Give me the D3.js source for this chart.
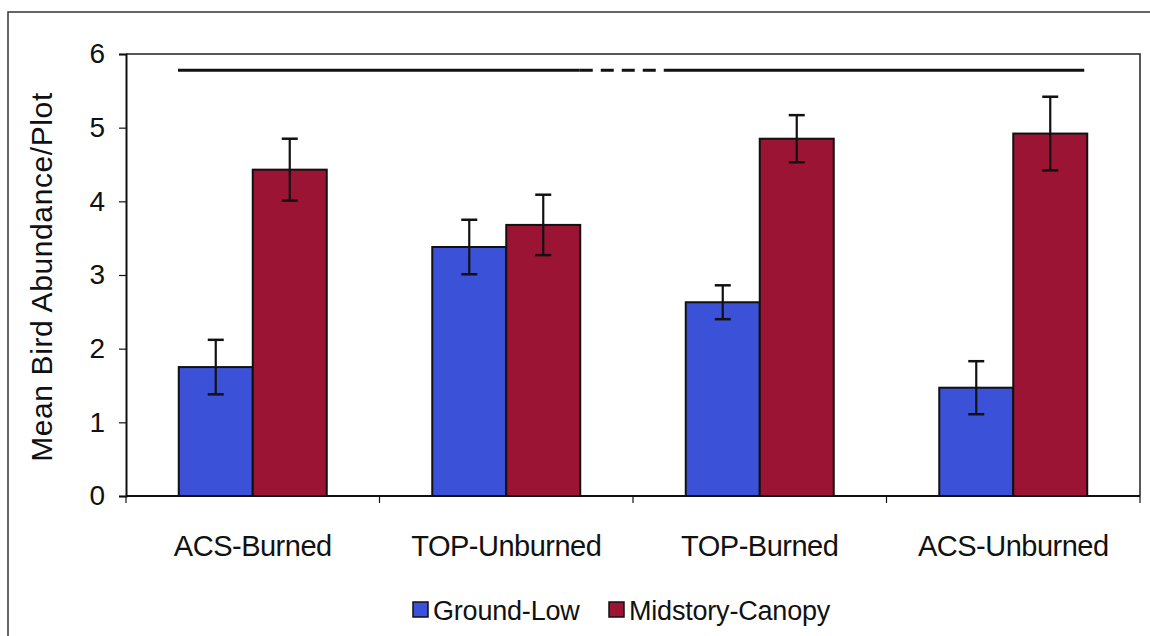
<!DOCTYPE html>
<html><head><meta charset="utf-8">
<script src="https://cdn.jsdelivr.net/npm/d3@7"></script>
<style>body{margin:0;background:#fff}svg{display:block}text{font-family:"Liberation Sans",Arial,sans-serif;fill:#111}</style>
</head><body>
<script>
const categories = ["ACS-Burned","TOP-Unburned","TOP-Burned","ACS-Unburned"];
const seriesNames = ["Ground-Low","Midstory-Canopy"];
const groundLow = [1.75, 3.38, 2.63, 1.47];
const groundLowErr = [0.37, 0.37, 0.23, 0.36];
const midstory = [4.43, 3.68, 4.85, 4.92];
const midstoryErr = [0.42, 0.41, 0.32, 0.50];
const yTicks = [0,1,2,3,4,5,6];
// significance line at top, in category units (0..4), dashed middle part
const sigY = 5.78;
const sigSegments = [
  {from:0.205, to:1.79, dashed:false},
  {from:1.79, to:2.13, dashed:true},
  {from:2.13, to:3.78, dashed:false}
];
const colors = ["#3b52d8","#9b1434"];

const W=1150,H=636;
const m={left:126,right:1140,top:54,bottom:496};
const svg=d3.select("body").append("svg").attr("width",W).attr("height",H);

// outer frame
svg.append("path").attr("d",`M8,${H+5}V12H${W+5}`).attr("fill","none").attr("stroke","#333").attr("stroke-width",1.5);

const x=d3.scaleBand().domain(categories).range([m.left,m.right]).paddingInner(0).paddingOuter(0);
const xs=d3.scaleBand().domain(seriesNames).range([0,x.bandwidth()]).paddingInner(0).paddingOuter(0.713);
const xc=d3.scaleLinear().domain([0,4]).range([m.left,m.right]);
const y=d3.scaleLinear().domain([0,6]).range([m.bottom,m.top]);

// plot frame top & right
svg.append("path").attr("d",`M${m.left},${m.top}H${m.right}V${m.bottom}`).attr("fill","none").attr("stroke","#222").attr("stroke-width",1.5);

const data=categories.map((c,i)=>({c,vals:[{s:seriesNames[0],v:groundLow[i],e:groundLowErr[i],k:0},{s:seriesNames[1],v:midstory[i],e:midstoryErr[i],k:1}]}));
const g=svg.append("g").selectAll("g").data(data).join("g").attr("transform",d=>`translate(${x(d.c)},0)`);
g.selectAll("rect").data(d=>d.vals).join("rect")
 .attr("x",d=>xs(d.s)).attr("width",xs.bandwidth())
 .attr("y",d=>y(d.v)).attr("height",d=>y(0)-y(d.v))
 .attr("fill",d=>colors[d.k]).attr("stroke","#111").attr("stroke-width",2);
const eb=g.selectAll("g.eb").data(d=>d.vals).join("g").attr("class","eb");
eb.append("line").attr("x1",d=>xs(d.s)+xs.bandwidth()/2).attr("x2",d=>xs(d.s)+xs.bandwidth()/2)
 .attr("y1",d=>y(d.v+d.e)).attr("y2",d=>y(d.v-d.e)).attr("stroke","#111").attr("stroke-width",2.2);
eb.selectAll("line.cap").data(d=>[{d,t:d.v+d.e},{d,t:d.v-d.e}]).join("line").attr("class","cap")
 .attr("x1",o=>xs(o.d.s)+xs.bandwidth()/2-8).attr("x2",o=>xs(o.d.s)+xs.bandwidth()/2+8)
 .attr("y1",o=>y(o.t)).attr("y2",o=>y(o.t)).attr("stroke","#111").attr("stroke-width",2.5);

// significance line
svg.selectAll("line.sig").data(sigSegments).join("line").attr("class","sig")
 .attr("x1",d=>xc(d.from)).attr("x2",d=>xc(d.to)).attr("y1",y(sigY)).attr("y2",y(sigY))
 .attr("stroke","#111").attr("stroke-width",3).attr("stroke-dasharray",d=>d.dashed?"13,8":null);

// y axis
const ya=svg.append("g").attr("transform",`translate(${m.left},0)`)
 .call(d3.axisLeft(y).tickValues(yTicks).tickFormat(d3.format("d")).tickSize(7).tickPadding(14));
ya.select(".domain").attr("stroke","#111").attr("stroke-width",2);
ya.selectAll(".tick line").attr("stroke","#111").attr("stroke-width",1.2);
ya.selectAll("text").style("font-size","28px").attr("fill","#111");

// x axis
const boundaries=d3.range(0,5);
const xa=svg.append("g").attr("transform",`translate(0,${m.bottom})`);
xa.append("line").attr("x1",m.left).attr("x2",m.right).attr("stroke","#111").attr("stroke-width",2);
xa.selectAll("line.t").data(boundaries).join("line").attr("class","t")
 .attr("x1",d=>xc(d)).attr("x2",d=>xc(d)).attr("y1",0).attr("y2",7).attr("stroke","#111").attr("stroke-width",1.2);
xa.selectAll("text").data(categories).join("text")
 .attr("x",d=>x(d)+x.bandwidth()/2).attr("y",60).attr("text-anchor","middle")
 .style("font-size","29px").style("letter-spacing","-0.5px").text(d=>d);

// y title
svg.append("text").attr("transform",`translate(52,277) rotate(-90)`)
 .attr("text-anchor","middle").style("font-size","30px").style("letter-spacing","0.6px").text("Mean Bird Abundance/Plot");

// legend
const leg=svg.append("g").attr("transform","translate(413,602)");
const items=[{n:seriesNames[0],c:colors[0],x:0},{n:seriesNames[1],c:colors[1],x:196}];
const li=leg.selectAll("g").data(items).join("g").attr("transform",d=>`translate(${d.x},0)`);
li.append("rect").attr("width",15).attr("height",15).attr("fill",d=>d.c).attr("stroke","#111").attr("stroke-width",1.5);
li.append("text").attr("x",20).attr("y",18).style("font-size","27px").style("letter-spacing","-0.2px").text(d=>d.n);
</script>
</body></html>
